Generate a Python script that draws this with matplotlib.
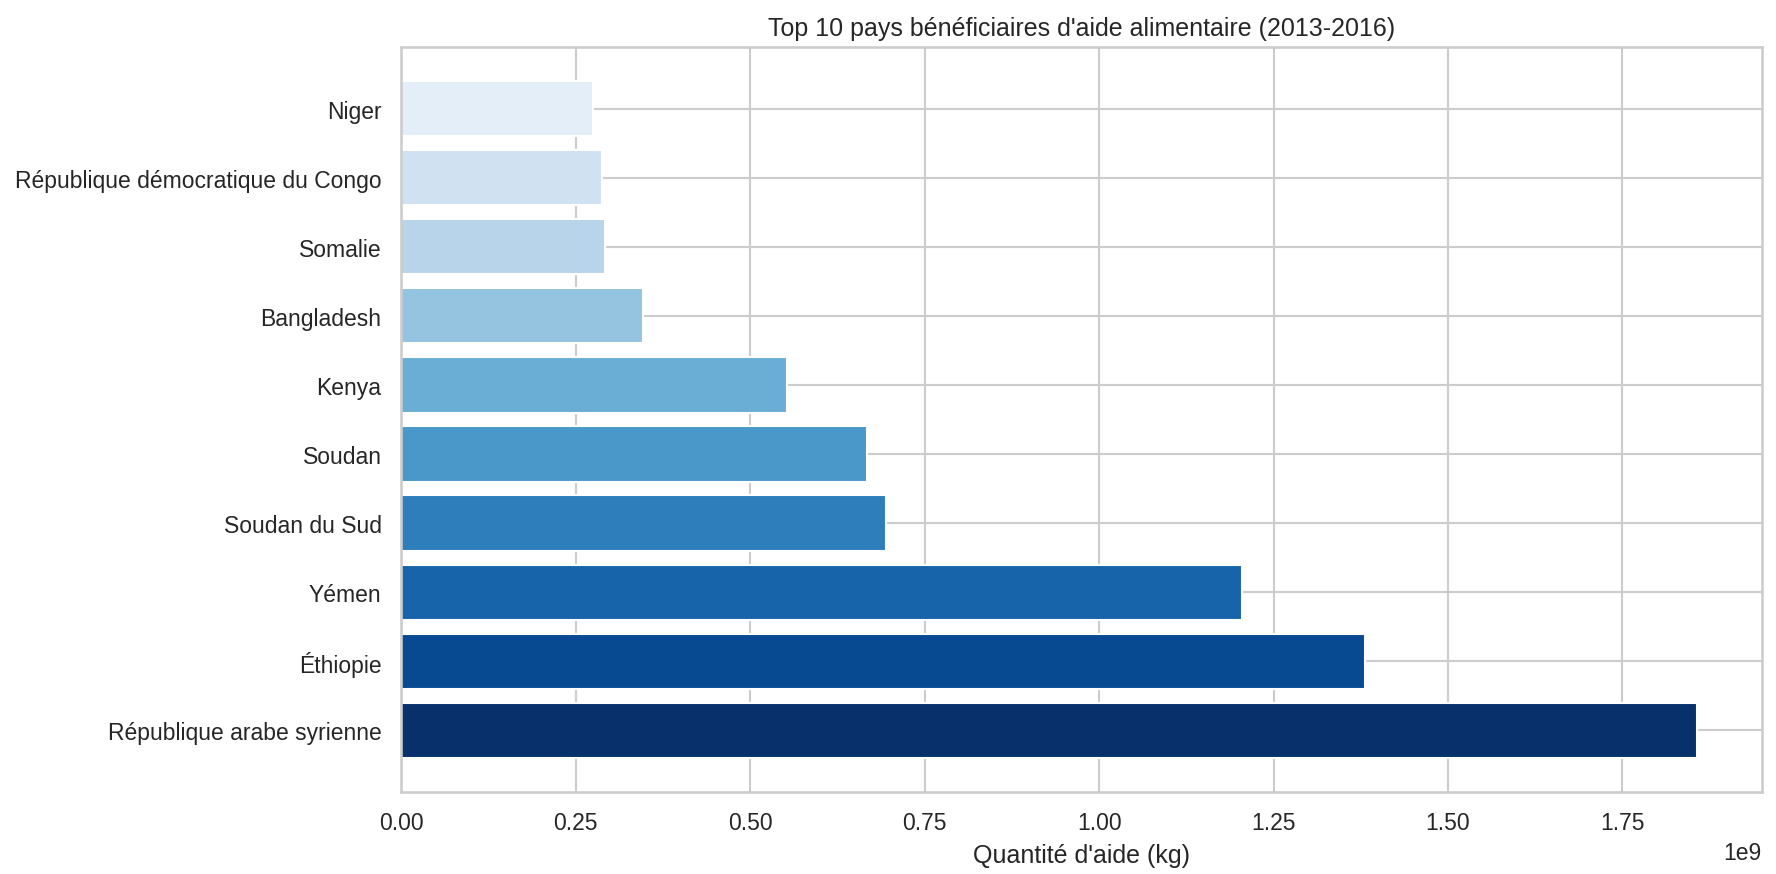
import numpy as np
import matplotlib
matplotlib.use("Agg")
import matplotlib.pyplot as plt
import seaborn as sns

# top 10 recipients, bottom to top
countries = ["République arabe syrienne", "Éthiopie", "Yémen", "Soudan du Sud",
             "Soudan", "Kenya", "Bangladesh", "Somalie",
             "République démocratique du Congo", "Niger"]
quantities = [1.857e9, 1.381e9, 1.205e9, 0.694e9, 0.668e9,
              0.552e9, 0.346e9, 0.292e9, 0.287e9, 0.274e9]

sns.set_theme(style="whitegrid")
plt.rcParams['font.family'] = ['Liberation Sans', 'DejaVu Sans']

fig, ax = plt.subplots(figsize=(11.84, 5.833), dpi=150)
fig.subplots_adjust(left=0.226, right=0.992, top=0.945, bottom=0.094)

colors = plt.cm.Blues(np.linspace(1.0, 0.1, len(countries)))
ax.barh(countries, quantities, color=colors, edgecolor="white", linewidth=1)

ax.set_title("Top 10 pays bénéficiaires d'aide alimentaire (2013-2016)")
ax.set_xlabel("Quantité d'aide (kg)")

plt.savefig("out.png")
